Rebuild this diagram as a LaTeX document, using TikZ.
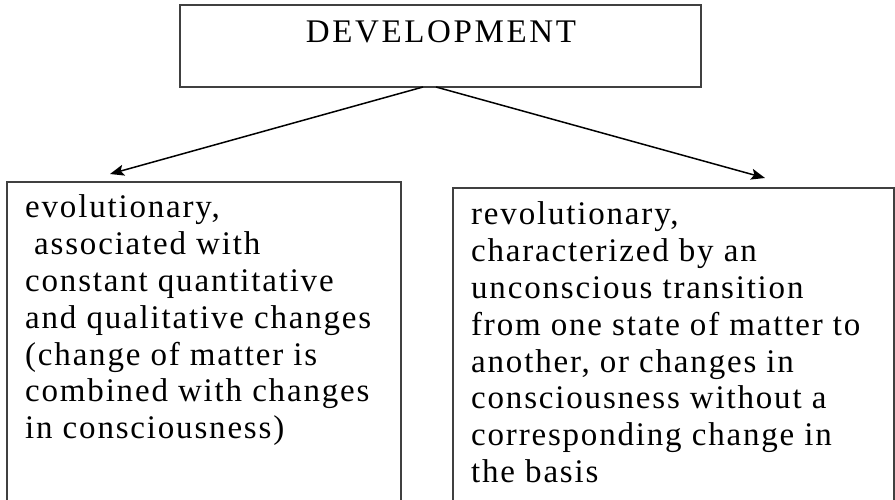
\documentclass[tikz,border=0pt]{standalone}
\usepackage{fontspec}
\setmainfont{Liberation Serif}
\newfontfamily\txtfont[LetterSpace=5.5]{Liberation Serif}
\newfontfamily\capfont[LetterSpace=8]{Liberation Serif}
\usetikzlibrary{arrows.meta}
\begin{document}
\begin{tikzpicture}[x=1pt,y=-1pt,
  box/.style={draw=black!75, line width=1.8pt, rectangle, inner sep=0pt, outer sep=0pt},
  link/.style={draw=black, line width=1.5pt, -{Stealth[length=14pt,width=11pt,inset=3pt]}},
  txt/.style={inner sep=0pt, anchor=base west, font=\txtfont\fontsize{33}{36.8}\selectfont}]
\useasboundingbox (0,0) rectangle (895,500);
\clip (0,0) rectangle (895,500);
\fill[white] (0,0) rectangle (895,500);
% boxes
\node[box, minimum width=521pt, minimum height=82pt] (dev) at (440.5,46) {};
\node[box, minimum width=394pt, minimum height=348pt] (evobox) at (204,356) {};
\node[box, minimum width=441pt, minimum height=342pt] (revbox) at (673.5,359) {};
% texts
\node[inner sep=0pt, anchor=base, font=\capfont\fontsize{33}{36}\selectfont] (devt) at (441,43) {DEVELOPMENT};
\node[txt] (evo) at (25,218) {\parbox[t]{400pt}{\raggedright
evolutionary,\\
\hspace*{9pt}associated with\\
constant quantitative\\
and qualitative changes\\
(change of matter is\\
combined with changes\\
in consciousness)}};
\node[txt] (rev) at (471,225) {\parbox[t]{420pt}{\raggedright
revolutionary,\\
characterized by an\\
unconscious transition\\
from one state of matter to\\
another, or changes in\\
consciousness without a\\
corresponding change in\\
the basis}};
% connectors
\coordinate (ltip) at (110,174);
\coordinate (rtip) at (765,178);
\draw[link] ([xshift=-17.5pt]dev.south) -- (ltip);
\draw[link] ([xshift=-4.5pt]dev.south) -- (rtip);
\end{tikzpicture}
\end{document}
